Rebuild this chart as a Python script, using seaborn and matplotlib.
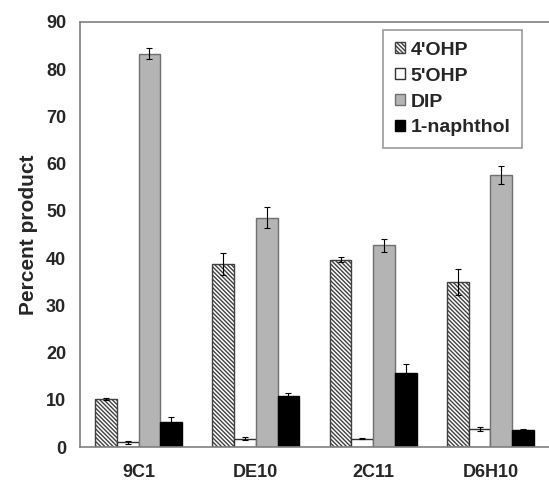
import numpy as np
import pandas as pd
import matplotlib
matplotlib.use("Agg")
import matplotlib.pyplot as plt
import seaborn as sns

sns.set_theme(style="white")
plt.rcParams['font.family'] = ['Liberation Sans', 'DejaVu Sans']
plt.rcParams['font.weight'] = 'bold'
plt.rcParams['hatch.linewidth'] = 1.0

# data
mutants = ["9C1", "DE10", "2C11", "D6H10"]
products = ["4'OHP", "5'OHP", "DIP", "1-naphthol"]
ohp4 = [10.2, 38.7, 39.7, 34.9]
ohp5 = [1.0, 1.8, 1.8, 3.8]
dip = [83.3, 48.6, 42.7, 57.6]
naphthol = [5.3, 10.7, 15.6, 3.5]
ohp4_err = [0.2, 2.3, 0.5, 2.7]
ohp5_err = [0.3, 0.4, 0.1, 0.5]
dip_err = [1.1, 2.2, 1.4, 2.0]
naphthol_err = [1.0, 0.8, 2.0, 0.4]

values = [ohp4, ohp5, dip, naphthol]
errors = [ohp4_err, ohp5_err, dip_err, naphthol_err]

df = pd.DataFrame({
    "mutant": np.repeat([mutants], len(products), axis=0).ravel(),
    "product": np.repeat(products, len(mutants)),
    "percent": np.ravel(values),
})

face = ["white", "white", "#b4b4b4", "black"]
edges = ["#404040", "#303030", "#707070", "black"]
hatch = "\\\\\\\\\\\\\\\\"

fig = plt.figure(figsize=(5.49, 4.87), dpi=100)
ax = fig.add_axes([80 / 549, 40 / 487, 469 / 549, 425 / 487])

sns.barplot(data=df, x="mutant", y="percent", hue="product", order=mutants,
            hue_order=products, palette=dict(zip(products, face)),
            width=0.74, errorbar=None, ax=ax, legend=True)

bar_groups = list(ax.containers)[:len(products)]
for i, cont in enumerate(bar_groups):
    for bar, err in zip(cont, errors[i]):
        bar.set_edgecolor(edges[i])
        bar.set_linewidth(1.0)
        if i == 0:
            bar.set_hatch(hatch)
        x = bar.get_x() + bar.get_width() / 2
        ax.errorbar(x, bar.get_height(), yerr=err, fmt="none", ecolor="black",
                    elinewidth=0.8, capsize=2.5, capthick=0.8)

ax.set_ylim(0, 90)
ax.set_yticks(range(0, 91, 10))
ax.set_xlim(-0.5, -0.5 + 469 / 119.5)
ax.set_xticks(range(len(mutants)))
ax.set_xticklabels(mutants)
ax.set_xticks(np.arange(-0.5, 4, 1), minor=True)
ax.tick_params(axis="x", which="major", length=0, pad=12, labelsize=13)
ax.tick_params(axis="x", which="minor", length=4, direction="out", color="#808080", width=1)
ax.tick_params(axis="y", length=5, direction="out", color="#808080", width=1, labelsize=13, pad=5)
ax.set_xlabel("")
ax.set_ylabel("Percent product", fontsize=15, fontweight="bold", labelpad=6)

for s in ["left", "bottom", "top"]:
    ax.spines[s].set_visible(True)
    ax.spines[s].set_color("#808080")
    ax.spines[s].set_linewidth(1.2)
ax.spines["right"].set_visible(False)

handles, labels = ax.get_legend_handles_labels()
for h, ec, i in zip(handles, edges, range(4)):
    h.set_edgecolor(ec)
    if i == 0:
        h.set_hatch(hatch)
leg = ax.legend(handles, labels, loc="upper right",
                bbox_to_anchor=(522 / 549, 1 - 30 / 487), bbox_transform=fig.transFigure,
                fancybox=False, frameon=True, edgecolor="#808080", fontsize=14,
                handlelength=0.5, handleheight=0.5, handletextpad=0.3,
                labelspacing=0.46, borderpad=0.6, borderaxespad=0)
leg.get_frame().set_linewidth(1.2)
for t in leg.get_texts():
    t.set_fontweight("bold")

fig.savefig("out.png", dpi=100)
